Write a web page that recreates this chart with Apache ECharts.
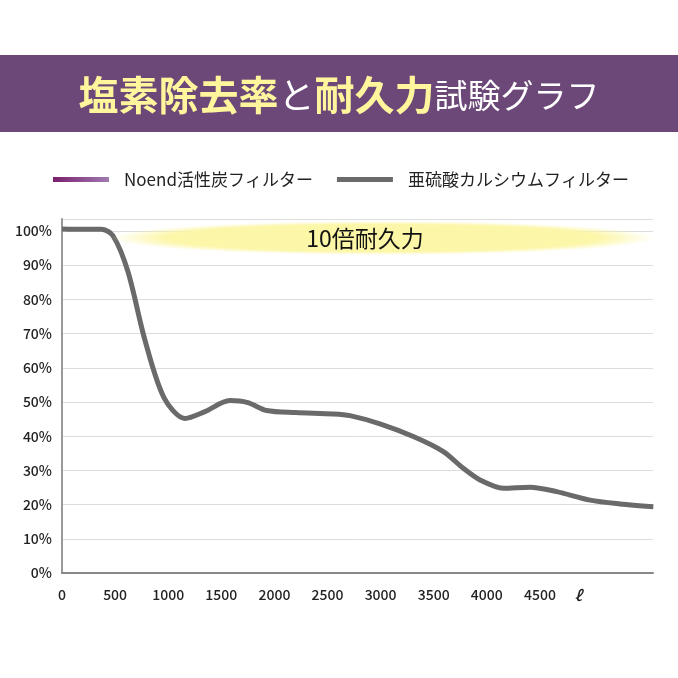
<!DOCTYPE html>
<html><head><meta charset="utf-8">
<script src="https://cdn.jsdelivr.net/npm/echarts@6/dist/echarts.min.js"></script>
<style>html,body{margin:0;padding:0;background:#fff}#c{width:678px;height:678px}</style>
</head><body><div id="c"></div>
<script>
const seriesNames = ['Noend活性炭フィルター', '亜硫酸カルシウムフィルター'];
const noendData = [];
const calciumLiters = [0, 200, 370, 480, 620, 780, 960, 1158, 1346, 1580, 1750, 1927, 2200, 2555, 2712, 2994, 3308, 3591, 3779, 3936, 4155, 4407, 4658, 4972, 5254, 5568];
const calciumPct =    [100.6, 100.5, 100.5, 98.6, 88.2, 68.2, 51.3, 45.2, 47.2, 50.4, 49.8, 47.5, 46.9, 46.5, 46.0, 43.6, 39.9, 35.5, 30.6, 27.2, 24.8, 25.1, 23.8, 21.3, 20.2, 19.4];
const yTicks = [0,10,20,30,40,50,60,70,80,90,100];
const xTickLabels = {0:'0',500:'500',1000:'1000',1500:'1500',2000:'2000',2500:'2500',3000:'3000',3500:'3500',4000:'4000',4500:'4500',5000:'ℓ'};

const chart = echarts.init(document.getElementById('c'));
const FONT = '"Noto Sans CJK JP", "Noto Sans", sans-serif';
chart.setOption({
  backgroundColor: '#fff',
  textStyle: {fontFamily: FONT},
  graphic: [
    {type:'rect', left:0, top:55, shape:{width:678, height:77}, style:{fill:'#6b4878'}, z:0},
    {type:'text', left:'center', top:75, z:1, style:{
      text:'{y|塩素除去率}{w|と}{y|耐久力}{s|試験グラフ}',
      rich:{
        y:{fill:'#fff59c', fontSize:40, fontWeight:'bold', fontFamily:FONT},
        w:{fill:'#ffffff', fontSize:36, fontFamily:FONT},
        s:{fill:'#ffffff', fontSize:33, fontFamily:FONT}
      }}},
    {type:'circle', x:383, y:238, scaleX:16, scaleY:1, shape:{cx:0, cy:0, r:17},
      style:{fill:new echarts.graphic.RadialGradient(0.5,0.5,0.5,[
        {offset:0, color:'rgba(252,246,165,1)'},
        {offset:0.8, color:'rgba(252,246,165,0.95)'},
        {offset:1, color:'rgba(252,246,165,0)'}])}, z:50, silent:true},
    {type:'text', x:365, y:238, z:51, style:{text:'10倍耐久力', fontSize:23, fill:'#111', align:'center', verticalAlign:'middle', fontFamily:FONT}}
  ],
  legend: {
    top: 166, left: 48, itemWidth: 56, itemHeight: 5, itemGap: 24,
    icon: 'rect',
    textStyle: {fontSize: 17, color: '#222', padding:[0,0,0,10], fontFamily: FONT},
    data: seriesNames
  },
  grid: {left: 62, right: 25, top: 219, bottom: 105, containLabel: false},
  xAxis: {
    type: 'value', min: 0, max: 5565, interval: 500,
    axisLine: {show: true, lineStyle: {color: '#888', width: 2}},
    axisTick: {show: false},
    splitLine: {show: false},
    axisLabel: {showMaxLabel: false, margin: 15, fontSize: 14, fontWeight: 500, color: '#222', fontFamily: FONT,
      formatter: v => v === 5000 ? '{u|ℓ}' : (xTickLabels[v] !== undefined ? xTickLabels[v] : ''),
      rich: {u: {fontSize: 15, fontStyle:'italic', padding:[0,30,0,0], color:'#222'}}}
  },
  yAxis: {
    type: 'value', min: 0, max: 103.5, interval: 10,
    axisLine: {show: true, lineStyle: {color: '#999', width: 2}},
    axisTick: {show: false},
    splitLine: {show: true, lineStyle: {color: '#dcdcdc', width: 1}},
    axisLabel: {showMaxLabel: false, margin: 10, fontSize: 14, fontWeight: 500, color: '#222', fontFamily: FONT,
      formatter: v => yTicks.includes(v) ? v + '%' : ''}
  },
  series: [
    {name: seriesNames[0], type: 'line', data: noendData, showSymbol: false,
      lineStyle:{width:5},
      itemStyle: {color: new echarts.graphic.LinearGradient(0,0,1,0,[{offset:0,color:'#7a1f6e'},{offset:1,color:'#a07bb0'}])}},
    {name: seriesNames[1], type: 'line', smooth: 0.3, showSymbol: false,
      data: calciumLiters.map((x,i)=>[x, calciumPct[i]]),
      lineStyle: {width: 5, color: '#6a6a6a'}, itemStyle: {color: '#6a6a6a'}, z: 10}
  ]
});
</script></body></html>
